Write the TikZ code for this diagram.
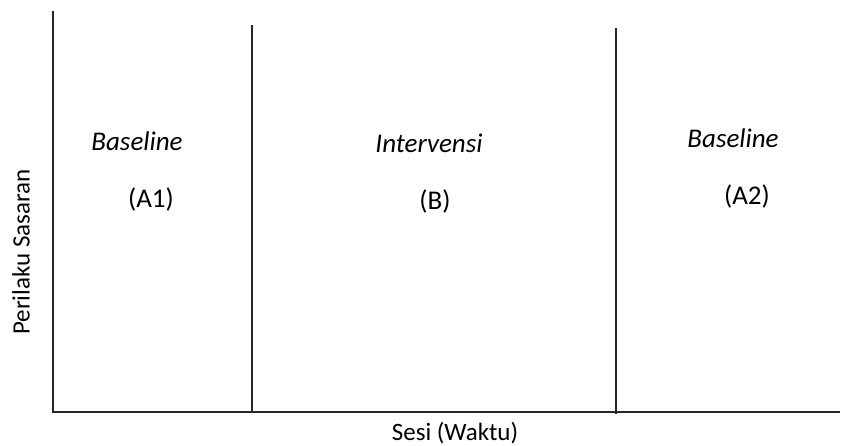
\documentclass[tikz,border=0pt]{standalone}
\usepackage{fontspec}
\setmainfont{Carlito}
\usepackage{tikz}
\usetikzlibrary{positioning}
\tikzset{
    axisline/.style={draw, line width=1.3pt, black!85},
    phase/.style={font=\fontsize{27}{32}\selectfont\itshape, inner sep=0pt},
    code/.style={font=\fontsize{27}{32}\selectfont, inner sep=0pt},
    axislabel/.style={font=\fontsize{25}{30}\selectfont, inner sep=0pt}
}
\begin{document}
\begin{tikzpicture}[x=1pt, y=-1pt]
    \useasboundingbox (0,0) rectangle (841,446);
    % Nodes
    \coordinate (O) at (53,412);
    \coordinate (Ytop) at (53,11);
    \coordinate (Xend) at (840,412);
    \coordinate (D1top) at (252,25);
    \coordinate (D1bot) at (252,413);
    \coordinate (D2top) at (616,28);
    \coordinate (D2bot) at (616,414);

    \node[phase] (base1) at (137,141) {Baseline};
    \node[code] (a1) at (151,199) {(A1)};
    \node[phase] (interv) at (429,143) {Intervensi};
    \node[code] (b) at (435,201) {(B)};
    \node[phase] (base2) at (733,138) {Baseline};
    \node[code] (a2) at (747,196) {(A2)};

    \node[axislabel, rotate=90] (ylab) at (21,252) {Perilaku Sasaran};
    \node[axislabel] (xlab) at (455,433) {Sesi (Waktu)};

    % lines
    \draw[axisline] (Ytop) -- (O) -- (Xend);
    \draw[axisline] (D1top) -- (D1bot);
    \draw[axisline] (D2top) -- (D2bot);
\end{tikzpicture}
\end{document}
